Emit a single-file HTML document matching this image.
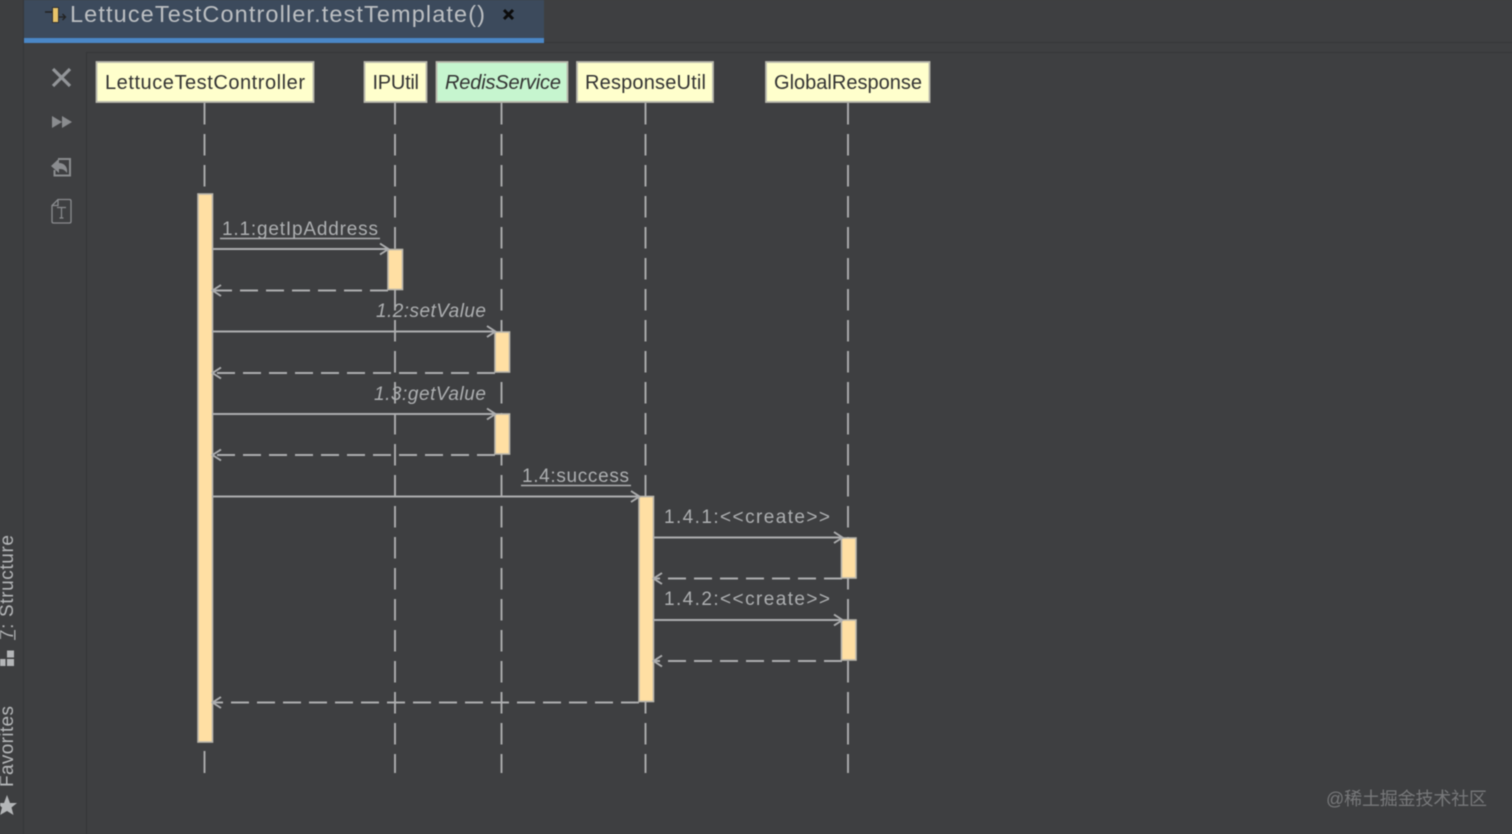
<!DOCTYPE html>
<html>
<head>
<meta charset="utf-8">
<style>
html,body{margin:0;padding:0;background:#3e3f41;width:1512px;height:834px;overflow:hidden}
svg{display:block;filter:blur(0.45px)}
text{font-family:"Liberation Sans","Noto Sans CJK SC",sans-serif}
</style>
</head>
<body>
<svg width="1512" height="834" viewBox="0 0 1512 834" xmlns="http://www.w3.org/2000/svg">
<rect width="1512" height="834" fill="#3e3f41"/>
<!-- panels -->
<rect x="0" y="0" width="23" height="834" fill="#3d3e40"/>
<line x1="23.500" y1="0" x2="23.500" y2="834" stroke="#353638"/>
<line x1="544" y1="42.500" x2="1512" y2="42.500" stroke="#353638"/>
<line x1="86.500" y1="53" x2="86.500" y2="834" stroke="#343537"/>
<line x1="86" y1="52.500" x2="1512" y2="52.500" stroke="#353638"/>
<!-- tab -->
<rect x="24" y="0" width="520" height="38" fill="#3c4a5c"/>
<rect x="24" y="38" width="520" height="5" fill="#4a87c7"/>
<line x1="45" y1="12" x2="52" y2="12" stroke="#222" stroke-width="1.500"/>
<rect x="52.500" y="7.500" width="6" height="15" fill="#e8c46a" stroke="#333" stroke-width="1"/>
<path d="M59 17H65M62.500 14L65.500 17L62.500 20" stroke="#222" stroke-width="1.300" fill="none"/>
<text x="70" y="22" font-size="23.500" fill="#bcbfc2" textLength="415" lengthAdjust="spacing">LettuceTestController.testTemplate()</text>
<path d="M504 10L513 19M513 10L504 19" stroke="#0c0c0c" stroke-width="3"/>
<!-- toolbar icons -->
<path d="M53 69L70 86M70 69L53 86" stroke="#929598" stroke-width="3.200"/>
<path d="M52 116V128L62 122ZM62 116V128L72 122Z" fill="#8a8c8f"/>
<path d="M58 159H70V175.500H54.500V170" fill="none" stroke="#8a8c8f" stroke-width="2"/>
<path d="M51 166L59 158.500V163C65 163 68 168 67 173C64 169 62 169 59 169V173Z" fill="#8a8c8f"/>
<path d="M58 199.500H69.500Q71 199.500 71 201V221.500Q71 223 69.500 223H53.500Q52 223 52 221.500V205.500Z M52 205.500H58V199.500" fill="none" stroke="#8a8c8f" stroke-width="1.300"/>
<path d="M57 207.500H66M61.500 207.500V218M59.500 218H63.500" fill="none" stroke="#8a8c8f" stroke-width="1.200"/>
<!-- left sidebar -->
<text transform="translate(13 640) rotate(-90)" font-size="19" fill="#b4b6b8" textLength="105" lengthAdjust="spacing">7: Structure</text>
<line x1="14.800" y1="630" x2="14.800" y2="640" stroke="#b4b6b8" stroke-width="1.200"/>
<rect x="0" y="659" width="5.500" height="7" fill="#b4b6b8"/>
<rect x="7" y="650.500" width="7" height="7" fill="#b4b6b8"/>
<rect x="7" y="659" width="7" height="7" fill="#b4b6b8"/>
<text transform="translate(13 787) rotate(-90)" font-size="19" fill="#b4b6b8" textLength="81" lengthAdjust="spacing">Favorites</text>
<path d="M7 795L10 803H17L11.500 807.500L13.500 815L7 811L0 815L2 807.500L-3 803H4Z" fill="#b4b6b8"/>
<!-- lifelines -->
<g stroke="#acadae" stroke-width="1.900" stroke-dasharray="21.500 9.500" fill="none">
<line x1="204.500" y1="103" x2="204.500" y2="192"/>
<line x1="395" y1="103" x2="395" y2="773"/>
<line x1="501.500" y1="103" x2="501.500" y2="773"/>
<line x1="645.500" y1="103" x2="645.500" y2="773"/>
<line x1="848" y1="103" x2="848" y2="773"/>
</g>
<line x1="204.500" y1="751" x2="204.500" y2="773" stroke="#acadae" stroke-width="1.900"/>
<!-- head boxes -->
<g stroke="#b8b8ac" stroke-width="1.800">
<rect x="96.500" y="62" width="217" height="40" fill="#ffffcc"/>
<rect x="364.500" y="62" width="62" height="40" fill="#ffffcc"/>
<rect x="436.500" y="62" width="131" height="40" fill="#c6f5cf"/>
<rect x="577" y="62" width="136" height="40" fill="#ffffcc"/>
<rect x="766" y="62" width="163.500" height="40" fill="#ffffcc"/>
</g>
<g font-size="20" fill="#333">
<text x="105" y="89" textLength="200" lengthAdjust="spacing">LettuceTestController</text>
<text x="372.500" y="89" textLength="46.500" lengthAdjust="spacing">IPUtil</text>
<text x="445" y="89" textLength="116" lengthAdjust="spacing" font-style="italic">RedisService</text>
<text x="585" y="89" textLength="121" lengthAdjust="spacing">ResponseUtil</text>
<text x="774" y="89" textLength="148" lengthAdjust="spacing">GlobalResponse</text>
</g>
<!-- activations -->
<g fill="#ffdfa3" stroke="#b9b6ac" stroke-width="1.600">
<rect x="198" y="194" width="14.500" height="548"/>
<rect x="388" y="249.500" width="14.500" height="40"/>
<rect x="495" y="332" width="14.500" height="40"/>
<rect x="495" y="414" width="14.500" height="40"/>
<rect x="639" y="496.500" width="14.500" height="205"/>
<rect x="841.500" y="538" width="14.500" height="40"/>
<rect x="841.500" y="620" width="14.500" height="40"/>
</g>
<!-- calls -->
<g stroke="#acadae" stroke-width="1.900" fill="none">
<path d="M212 249H388M380 243.500L388.500 249L380 254.500"/>
<path d="M212 331.500H495M487 326L495.500 331.500L487 337"/>
<path d="M212 414H495M487 408.500L495.500 414L487 419.500"/>
<path d="M212 496.500H639M631 491L639.500 496.500L631 502"/>
<path d="M653 537.500H842M834 532L842.500 537.500L834 543"/>
<path d="M653 620H842M834 614.500L842.500 620L834 625.500"/>
<!-- return heads -->
<path d="M221 285L212.500 290.500L221 296"/>
<path d="M221 367.500L212.500 373L221 378.500"/>
<path d="M221 449.500L212.500 455L221 460.500"/>
<path d="M662 573L653.500 578.500L662 584"/>
<path d="M662 655.500L653.500 661L662 666.500"/>
<path d="M221 697L212.500 702.500L221 708"/>
</g>
<!-- returns -->
<g stroke="#acadae" stroke-width="1.900" fill="none" stroke-dasharray="18 8">
<line x1="388" y1="290.500" x2="213" y2="290.500"/>
<line x1="495" y1="373" x2="213" y2="373"/>
<line x1="495" y1="455" x2="213" y2="455"/>
<line x1="842" y1="578.500" x2="654" y2="578.500"/>
<line x1="842" y1="661" x2="654" y2="661"/>
<line x1="639" y1="702.500" x2="213" y2="702.500"/>
</g>
<!-- labels -->
<g font-size="19" fill="#adafb1">
<text x="222" y="235" textLength="156" lengthAdjust="spacing">1.1:getIpAddress</text>
<line x1="220" y1="238.500" x2="380" y2="238.500" stroke="#adafb1" stroke-width="1.400"/>
<text x="376" y="317" textLength="110" lengthAdjust="spacing" font-style="italic">1.2:setValue</text>
<text x="374" y="400" textLength="112" lengthAdjust="spacing" font-style="italic">1.3:getValue</text>
<text x="522" y="482" textLength="107" lengthAdjust="spacing">1.4:success</text>
<line x1="521" y1="485.500" x2="631" y2="485.500" stroke="#adafb1" stroke-width="1.400"/>
<text x="664" y="523" textLength="166" lengthAdjust="spacing">1.4.1:&lt;&lt;create&gt;&gt;</text>
<text x="664" y="605" textLength="166" lengthAdjust="spacing">1.4.2:&lt;&lt;create&gt;&gt;</text>
</g>
<!-- watermark -->
<text x="1326" y="805" font-size="18" fill="#77787a" textLength="161" lengthAdjust="spacing">@稀土掘金技术社区</text>
</svg>
</body>
</html>
